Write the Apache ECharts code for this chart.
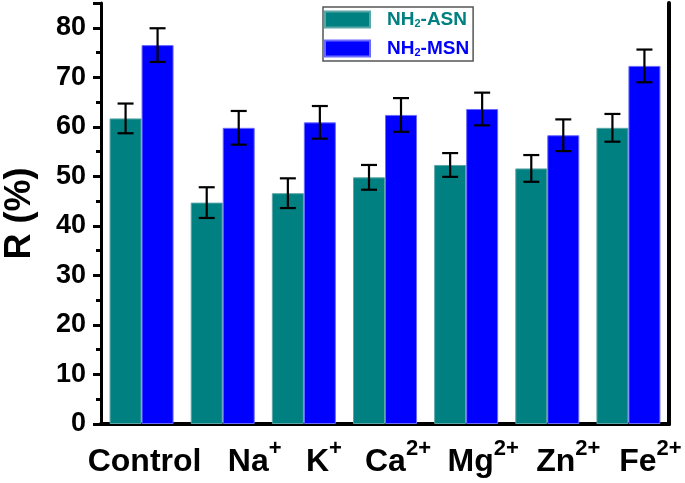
<!DOCTYPE html>
<html>
<head>
<meta charset="utf-8">
<script src="https://cdn.jsdelivr.net/npm/echarts@6/dist/echarts.min.js"></script>
<style>html,body{margin:0;padding:0;background:#fff}#c{width:685px;height:483px}</style>
</head>
<body>
<div id="c"></div>
<script>
// ---- data ----
const categories = ['Control', 'Na', 'K', 'Ca', 'Mg', 'Zn', 'Fe'];
const charges = ['', '+', '+', '2+', '2+', '2+', '2+'];
const asnValues = [61.7, 44.7, 46.6, 49.8, 52.3, 51.6, 59.8];
const asnErrors = [3.0, 3.1, 3.0, 2.5, 2.4, 2.7, 2.8];
const msnValues = [76.5, 59.8, 60.9, 62.4, 63.6, 58.3, 72.3];
const msnErrors = [3.4, 3.4, 3.3, 3.4, 3.3, 3.2, 3.3];
const yTicks = [0, 10, 20, 30, 40, 50, 60, 70, 80];

// ---- layout / style ----
const labelShift = [3, 32, 20, 13, 17, 21, 22]; // horizontal shift of each x label (px)
const FONT = '"Liberation Sans", Arial, sans-serif';
const TEAL = '#008080', BLUE = '#0000ff';
const BAR_W = 32;

const rich = { s: { fontSize: 22, fontWeight: 'bold', fontFamily: FONT, color: '#000', verticalAlign: 'top', lineHeight: 32 } };
labelShift.forEach((sh, i) => {
  rich['b' + i] = { fontSize: 32, fontWeight: 'bold', fontFamily: FONT, color: '#000', lineHeight: 48, padding: [0, 0, 0, sh * 2] };
});

function errSeries(name, values, errors, offset) {
  return {
    type: 'custom', name: name + '_err', z: 10,
    data: values.map((v, i) => [i, v, errors[i]]),
    encode: { x: 0, y: 1 },
    renderItem: function (params, api) {
      const i = api.value(0), v = api.value(1), e = api.value(2);
      const top = api.coord([i, v + e]);
      const bot = api.coord([i, v - e]);
      const x = top[0] + offset;
      const cap = 8;
      const st = { stroke: '#000', lineWidth: 2.2 };
      return { type: 'group', children: [
        { type: 'line', shape: { x1: x, y1: top[1], x2: x, y2: bot[1] }, style: st },
        { type: 'line', shape: { x1: x - cap, y1: top[1], x2: x + cap, y2: top[1] }, style: st },
        { type: 'line', shape: { x1: x - cap, y1: bot[1], x2: x + cap, y2: bot[1] }, style: st }
      ]};
    }
  };
}

const chart = echarts.init(document.getElementById('c'), null, { renderer: 'canvas' });
chart.setOption({
  animation: false,
  backgroundColor: '#fff',
  grid: { left: 101, right: 16, top: 3, bottom: 59, containLabel: false, outerBoundsMode: 'none' },
  legend: {
    orient: 'vertical', left: 323, top: 7,
    data: [
      { name: 'NH2-ASN', textStyle: { color: TEAL } },
      { name: 'NH2-MSN', textStyle: { color: BLUE } }
    ],
    itemWidth: 45, itemHeight: 16, itemGap: 10,
    padding: [3, 4, 3, 1],
    backgroundColor: '#fff', borderColor: '#555', borderWidth: 1.5,
    icon: 'rect',
    formatter: function (n) { return '{a|NH}{sub|2}{a|' + n.slice(3) + '}'; },
    textStyle: {
      fontFamily: FONT, fontWeight: 'bold', fontSize: 19, padding: [0, 0, 0, 12],
      rich: {
        a: { fontFamily: FONT, fontWeight: 'bold', fontSize: 19 },
        sub: { fontFamily: FONT, fontWeight: 'bold', fontSize: 11, verticalAlign: 'bottom', lineHeight: 14 }
      }
    }
  },
  xAxis: [{
    type: 'category', data: categories, position: 'bottom',
    axisLine: { lineStyle: { color: '#000', width: 3 } },
    axisTick: { alignWithLabel: true, inside: false, length: 8, lineStyle: { color: '#000', width: 3 } },
    axisLabel: {
      interval: 0, margin: 14,
      formatter: function (v, i) {
        return charges[i] ? '{b' + i + '|' + v + '}{s|' + charges[i] + '}' : '{b' + i + '|' + v + '}';
      },
      rich: rich
    },
    splitLine: { show: false }
  }, {
    type: 'category', data: categories, position: 'top',
    axisLine: { lineStyle: { color: '#000', width: 4 } },
    axisTick: { show: false }, axisLabel: { show: false }
  }],
  yAxis: [{
    type: 'value', min: 0, max: 85, interval: 10,
    name: 'R (%)', nameLocation: 'middle', nameGap: 63,
    nameTextStyle: { fontFamily: FONT, fontWeight: 'bold', fontSize: 36, color: '#000' },
    axisLine: { show: true, lineStyle: { color: '#000', width: 3 } },
    axisTick: { show: true, inside: false, length: 8, lineStyle: { color: '#000', width: 3 } },
    minorTick: { show: true, splitNumber: 2, length: 5, lineStyle: { color: '#000', width: 3 } },
    axisLabel: {
      margin: 15, fontFamily: FONT, fontWeight: 'bold', fontSize: 27, color: '#000',
      formatter: function (v) { return yTicks.indexOf(v) >= 0 ? String(v) : ''; }
    },
    splitLine: { show: false }
  }, {
    type: 'value', min: 0, max: 85, position: 'right',
    axisLine: { show: true, lineStyle: { color: '#000', width: 4 } },
    axisTick: { show: false }, axisLabel: { show: false }, splitLine: { show: false }
  }],
  series: [
    {
      name: 'NH2-ASN', type: 'bar', data: asnValues, barWidth: BAR_W, barGap: '0%',
      itemStyle: { color: TEAL, borderColor: '#5aa6a6', borderWidth: 1 }
    },
    {
      name: 'NH2-MSN', type: 'bar', data: msnValues, barWidth: BAR_W, barGap: '0%',
      itemStyle: { color: BLUE, borderColor: '#6a6aff', borderWidth: 1 }
    },
    errSeries('NH2-ASN', asnValues, asnErrors, -BAR_W / 2),
    errSeries('NH2-MSN', msnValues, msnErrors, BAR_W / 2)
  ]
});
</script>
</body>
</html>
